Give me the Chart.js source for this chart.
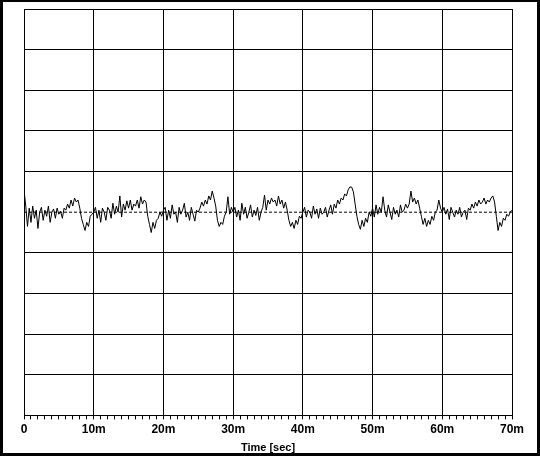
<!DOCTYPE html>
<html>
<head>
<meta charset="utf-8">
<script src="https://cdn.jsdelivr.net/npm/chart.js@4/dist/chart.umd.min.js"></script>
<style>
  html, body { margin: 0; padding: 0; background: #fff; }
  canvas { display: block; }
</style>
</head>
<body>
<canvas id="signal" width="540" height="456"></canvas>
<script>
// time axis, minutes
const tickLabels = ["0", "10m", "20m", "30m", "40m", "50m", "60m", "70m"];
const sampleStep = 0.25;

// signal, one value every 0.25m, in grid divisions
const seg0 = [0.55, 0.15, -0.35, 0.1, -0.25, 0.15, -0.15, 0.05, -0.4, 0.0, 0.12, -0.2, 0.05, -0.1, 0.15, -0.25, 0.0, 0.08, -0.15, 0.1, -0.05, 0.02, -0.15, 0.1,
  0.05, 0.2, 0.1, 0.3, 0.15, 0.35, 0.25, 0.3,
  0.1, -0.15, -0.3, -0.45, -0.25, -0.35,
  -0.1, -0.05, 0.0];
const seg1 = [0.12, -0.15, 0.05, -0.25, 0.1, 0.0, -0.2, 0.12, 0.05, -0.15,
  0.22, -0.05, 0.15, 0.0, 0.4, -0.12, 0.2, 0.05, 0.28, 0.1,
  0.3, 0.05, 0.2, 0.15, 0.3, 0.1, 0.38, 0.2, 0.3, 0.25,
  -0.1, -0.3, -0.5, -0.25, -0.4, -0.2, -0.15, 0.0, -0.1, 0.05];
const seg2 = [0.12, -0.2, 0.05, -0.15, 0.18, -0.05, 0.0, -0.25, 0.12, -0.05,
  0.05, 0.22, -0.12, 0.0, -0.2, 0.12, -0.05, -0.22, 0.05, 0.0,
  0.1, 0.25, 0.15, 0.3, 0.2, 0.4, 0.3, 0.52, 0.35, 0.15,
  -0.2, -0.35, -0.25, -0.3, -0.1, 0.0, 0.38, -0.05, 0.12, 0.0];
const seg3 = [0.12, -0.12, 0.05, -0.2, 0.22, -0.05, 0.12, -0.15, 0.0, 0.18,
  -0.12, 0.05, -0.08, 0.12, -0.2, 0.0, 0.12, 0.42, 0.05, 0.3,
  0.2, 0.35, 0.25, 0.3, 0.15, 0.4, 0.2, 0.3, 0.1, 0.25,
  0.05, -0.2, -0.35, -0.25, -0.4, -0.2, -0.3, -0.1, -0.15, 0.0];
const seg4 = [0.12, -0.12, 0.05, 0.0, -0.15, 0.15, -0.05, 0.08, -0.15, 0.1,
  -0.05, 0.0, 0.12, -0.12, 0.05, 0.18, -0.05, 0.2, 0.1, 0.3,
  0.2, 0.35, 0.3, 0.45, 0.4, 0.55, 0.62, 0.62, 0.5, 0.2,
  -0.1, -0.3, -0.42, -0.2, -0.35, -0.15, -0.25, 0.0, -0.1, 0.1];
const seg5 = [-0.12, 0.18, -0.05, 0.12, 0.0, 0.38, 0.05, -0.12, 0.18, 0.0,
  -0.18, 0.12, -0.05, 0.05, -0.12, 0.18, 0.0, 0.05, 0.2, 0.1,
  0.2, 0.52, 0.25, 0.35, 0.2, 0.3, 0.1, -0.1, -0.3, -0.15,
  -0.35, -0.2, -0.3, -0.1, -0.2, 0.0, 0.05, 0.3, 0.1, 0.0];
const seg6 = [0.12, -0.05, 0.08, -0.18, 0.12, 0.0, -0.12, 0.05, -0.05, 0.12,
  -0.12, 0.0, 0.05, -0.18, 0.1, 0.05, 0.2, 0.1, 0.25, 0.15,
  0.3, 0.2, 0.25, 0.35, 0.2, 0.3, 0.25, 0.35, 0.4, 0.25,
  -0.1, -0.45, -0.25, -0.35, -0.15, -0.2, -0.05, -0.1, 0.0, 0.05];
const baseline = [0, 0];

const signal = seg0.concat(seg1, seg2, seg3, seg4, seg5, seg6);
const points = signal.map(function(v, i) { return { x: i * sampleStep, y: v }; });
const basePoints = [{ x: 0, y: baseline[0] }, { x: 70, y: baseline[1] }];

const frame = {
  id: "frame",
  afterDraw: function(chart) {
    const c = chart.ctx;
    c.save();
    c.fillStyle = "#000";
    c.fillRect(0, 0, 540, 2);
    c.fillRect(0, 453, 540, 3);
    c.fillRect(0, 0, 3, 456);
    c.fillRect(537, 0, 3, 456);
    c.restore();
  }
};

new Chart(document.getElementById("signal"), {
  type: "line",
  data: {
    datasets: [
      {
        data: points,
        borderColor: "#000",
        borderWidth: 1,
        pointRadius: 0,
        tension: 0
      },
      {
        data: basePoints,
        borderColor: "#000",
        borderWidth: 1,
        borderDash: [3, 2],
        pointRadius: 0
      }
    ]
  },
  options: {
    responsive: false,
    animation: false,
    events: [],
    layout: { padding: { left: 24, top: 9, right: 28, bottom: 1 } },
    plugins: { legend: { display: false }, tooltip: { enabled: false } },
    scales: {
      x: {
        type: "linear",
        min: 0,
        max: 70,
        ticks: {
          stepSize: 1,
          autoSkip: false,
          maxRotation: 0,
          color: "#000",
          padding: 3,
          font: { family: "Liberation Sans", size: 12, weight: "bold" },
          callback: function(v) { return v % 10 === 0 ? tickLabels[v / 10] : ""; }
        },
        grid: {
          color: function(ctx) { return ctx.tick && ctx.tick.value % 10 === 0 ? "#000" : "rgba(0,0,0,0)"; },
          tickColor: "#000",
          tickLength: 4,
          lineWidth: 1
        },
        border: { color: "#000", width: 1 },
        title: {
          display: true,
          text: "Time [sec]",
          color: "#000",
          padding: { top: 2, bottom: 0 },
          font: { family: "Liberation Sans", size: 11, weight: "bold" }
        }
      },
      y: {
        min: -5,
        max: 5,
        ticks: { display: false, stepSize: 1 },
        grid: {
          color: function(ctx) { return ctx.tick && ctx.tick.value === 0 ? "rgba(0,0,0,0)" : "#000"; },
          drawTicks: false,
          lineWidth: 1
        },
        border: { color: "#000", width: 1 }
      }
    }
  },
  plugins: [frame]
});
</script>
</body>
</html>
